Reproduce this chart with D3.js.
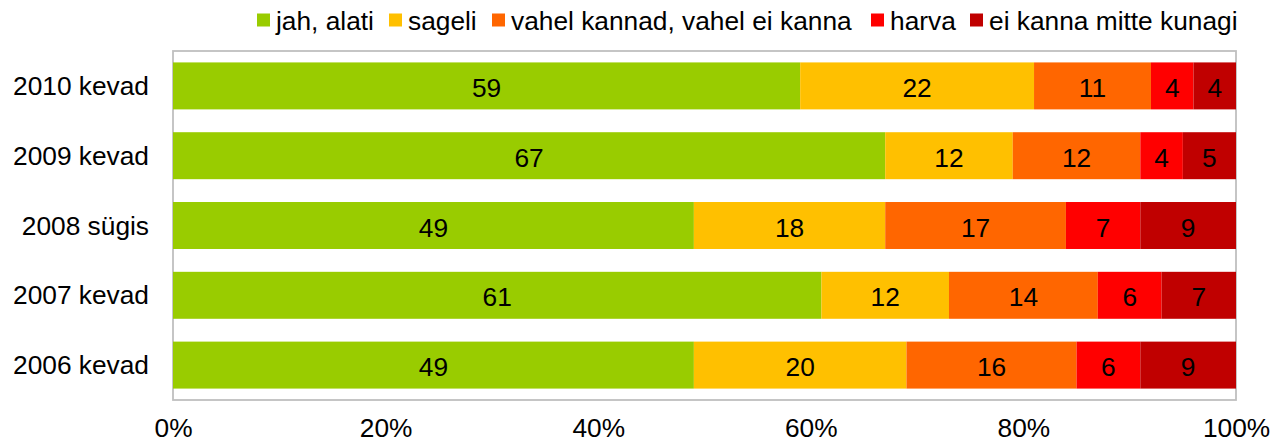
<!DOCTYPE html>
<html>
<head>
<meta charset="utf-8">
<script src="https://cdn.jsdelivr.net/npm/d3@7"></script>
<style>
  html, body { margin: 0; padding: 0; background: #fff; }
  svg { display: block; }
  text { font-family: "Liberation Sans", Arial, sans-serif; fill: #000; }
</style>
</head>
<body>
<svg id="chart" width="1274" height="443"></svg>
<script>
const categories = ["2010 kevad", "2009 kevad", "2008 sügis", "2007 kevad", "2006 kevad"];
const seriesNames = ["jah, alati", "sageli", "vahel kannad, vahel ei kanna", "harva", "ei kanna mitte kunagi"];
const seriesColors = ["#99CC00", "#FFC000", "#FF6600", "#FF0000", "#C00000"];
const jahAlati   = [59, 67, 49, 61, 49];
const sageli     = [22, 12, 18, 12, 20];
const vahel      = [11, 12, 17, 14, 16];
const harva      = [4, 4, 7, 6, 6];
const eiKunagi   = [4, 5, 9, 7, 9];
const xTicks = [0, 20, 40, 60, 80, 100];

(function () {
const seriesValues = [jahAlati, sageli, vahel, harva, eiKunagi];
const rows = categories.map((c, i) => {
  const r = { cat: c };
  seriesNames.forEach((s, j) => r[s] = seriesValues[j][i]);
  return r;
});
const stacked = d3.stack().keys(seriesNames)(rows);

const svg = d3.select("#chart");
const FS = 26.3;
const pLeft = 173, pRight = 1236, pTop = 51, pBottom = 400;

const x = d3.scaleLinear().domain([0, 100]).range([pLeft, pRight]);
const y = d3.scaleBand().domain(categories).range([pTop, pBottom])
  .paddingInner(0.327).paddingOuter(0.1635);

// plot frame
svg.append("rect")
  .attr("x", pLeft).attr("y", pTop)
  .attr("width", pRight - pLeft).attr("height", pBottom - pTop)
  .attr("fill", "none").attr("stroke", "#BFBFBF").attr("stroke-width", 1.8);

// bars
const g = svg.append("g");
stacked.forEach((layer, j) => {
  g.selectAll(null).data(layer).enter().append("rect")
    .attr("x", d => x(d[0]))
    .attr("y", d => y(d.data.cat))
    .attr("width", d => x(d[1]) - x(d[0]))
    .attr("height", y.bandwidth())
    .attr("fill", seriesColors[j]);
});
stacked.forEach((layer, j) => {
  g.selectAll(null).data(layer).enter().append("text")
    .attr("x", d => (x(d[0]) + x(d[1])) / 2)
    .attr("y", d => y(d.data.cat) + y.bandwidth() / 2 + 11)
    .attr("text-anchor", "middle")
    .attr("font-size", FS)
    .text(d => d[1] - d[0]);
});

// y axis labels
const yAxis = d3.axisLeft(y).tickSize(0).tickPadding(0);
const ya = svg.append("g").attr("transform", `translate(149,0)`).call(yAxis);
ya.select(".domain").remove();
ya.selectAll("text").attr("font-size", FS).attr("font-family", null)
  .attr("dy", null).attr("y", 9).attr("x", 0).style("fill", "#000");

// x axis labels
const xAxis = d3.axisBottom(x).tickValues(xTicks).tickSize(0).tickPadding(0)
  .tickFormat(d => d + "%");
const xa = svg.append("g").call(xAxis);
xa.select(".domain").remove();
xa.selectAll("text").attr("font-size", FS).attr("font-family", null)
  .attr("dy", null).attr("y", 437).style("fill", "#000");

// legend
const legendX = [257, 389, 492, 871, 970];
const leg = svg.append("g");
seriesNames.forEach((s, j) => {
  leg.append("rect").attr("x", legendX[j]).attr("y", 13.5).attr("width", 13).attr("height", 13)
    .attr("fill", seriesColors[j]);
  leg.append("text").attr("x", legendX[j] + 19).attr("y", 29.5)
    .attr("font-size", FS).text(s);
});
})();
</script>
</body>
</html>
